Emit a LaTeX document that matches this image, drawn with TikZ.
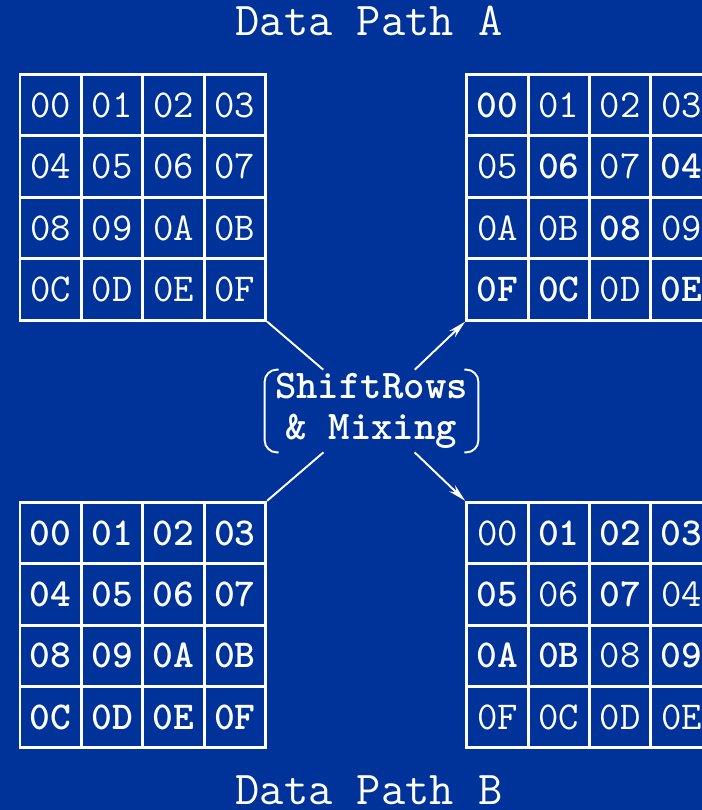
\documentclass[tikz,border=0pt]{standalone}
\usepackage{fontspec}
\usetikzlibrary{arrows.meta}
\definecolor{slideblue}{RGB}{0,51,153}

\begin{document}
\begin{tikzpicture}[
  cell/.style={draw=white,line width=1.7pt,minimum size=1.228cm,inner sep=0pt,text=white,font=\ttfamily\fontsize{22.5}{26}\selectfont},
  hot/.style={cell,font=\ttfamily\bfseries\fontsize{22.5}{26}\selectfont},
  pathname/.style={anchor=base,inner sep=0pt,text=white,font=\ttfamily\fontsize{26.8}{30}\selectfont},
  mixbox/.style={minimum width=4.260cm,minimum height=1.640cm,inner sep=0pt,align=center,text=white,font=\ttfamily\bfseries\fontsize{23.2}{23.2}\selectfont},
  link/.style={white,line width=1.1pt},
  arrowed/.style={link,-{Stealth[length=0.36cm,width=0.17cm]}}]
\useasboundingbox (0.000,0.000) rectangle (14.040,-16.200);
\clip (0.000,0.000) rectangle (14.040,-16.200);
\fill[slideblue] (0.000,0.000) rectangle (14.040,-16.200);
\node[pathname] (titlea) at (7.380,-0.720) {Data Path A};
\node[pathname] (titleb) at (7.380,-16.080) {Data Path B};
% path A, before
\node[cell] (ina00) at (1.014,-2.104) {00}; \node[cell] (ina01) at (2.242,-2.104) {01}; \node[cell] (ina02) at (3.470,-2.104) {02}; \node[cell] (ina03) at (4.698,-2.104) {03};
\node[cell] (ina10) at (1.014,-3.332) {04}; \node[cell] (ina11) at (2.242,-3.332) {05}; \node[cell] (ina12) at (3.470,-3.332) {06}; \node[cell] (ina13) at (4.698,-3.332) {07};
\node[cell] (ina20) at (1.014,-4.560) {08}; \node[cell] (ina21) at (2.242,-4.560) {09}; \node[cell] (ina22) at (3.470,-4.560) {0A}; \node[cell] (ina23) at (4.698,-4.560) {0B};
\node[cell] (ina30) at (1.014,-5.788) {0C}; \node[cell] (ina31) at (2.242,-5.788) {0D}; \node[cell] (ina32) at (3.470,-5.788) {0E}; \node[cell] (ina33) at (4.698,-5.788) {0F};
% path B, before
\node[hot] (inb00) at (1.014,-10.660) {00}; \node[hot] (inb01) at (2.242,-10.660) {01}; \node[hot] (inb02) at (3.470,-10.660) {02}; \node[hot] (inb03) at (4.698,-10.660) {03};
\node[hot] (inb10) at (1.014,-11.888) {04}; \node[hot] (inb11) at (2.242,-11.888) {05}; \node[hot] (inb12) at (3.470,-11.888) {06}; \node[hot] (inb13) at (4.698,-11.888) {07};
\node[hot] (inb20) at (1.014,-13.116) {08}; \node[hot] (inb21) at (2.242,-13.116) {09}; \node[hot] (inb22) at (3.470,-13.116) {0A}; \node[hot] (inb23) at (4.698,-13.116) {0B};
\node[hot] (inb30) at (1.014,-14.344) {0C}; \node[hot] (inb31) at (2.242,-14.344) {0D}; \node[hot] (inb32) at (3.470,-14.344) {0E}; \node[hot] (inb33) at (4.698,-14.344) {0F};
% path A, after
\node[hot] (outa00) at (9.948,-2.104) {00}; \node[cell] (outa01) at (11.176,-2.104) {01}; \node[cell] (outa02) at (12.404,-2.104) {02}; \node[cell] (outa03) at (13.632,-2.104) {03};
\node[cell] (outa10) at (9.948,-3.332) {05}; \node[hot] (outa11) at (11.176,-3.332) {06}; \node[cell] (outa12) at (12.404,-3.332) {07}; \node[hot] (outa13) at (13.632,-3.332) {04};
\node[cell] (outa20) at (9.948,-4.560) {0A}; \node[cell] (outa21) at (11.176,-4.560) {0B}; \node[hot] (outa22) at (12.404,-4.560) {08}; \node[cell] (outa23) at (13.632,-4.560) {09};
\node[hot] (outa30) at (9.948,-5.788) {0F}; \node[hot] (outa31) at (11.176,-5.788) {0C}; \node[cell] (outa32) at (12.404,-5.788) {0D}; \node[hot] (outa33) at (13.632,-5.788) {0E};
% path B, after
\node[cell] (outb00) at (9.948,-10.660) {00}; \node[hot] (outb01) at (11.176,-10.660) {01}; \node[hot] (outb02) at (12.404,-10.660) {02}; \node[hot] (outb03) at (13.632,-10.660) {03};
\node[hot] (outb10) at (9.948,-11.888) {05}; \node[cell] (outb11) at (11.176,-11.888) {06}; \node[hot] (outb12) at (12.404,-11.888) {07}; \node[cell] (outb13) at (13.632,-11.888) {04};
\node[hot] (outb20) at (9.948,-13.116) {0A}; \node[hot] (outb21) at (11.176,-13.116) {0B}; \node[cell] (outb22) at (12.404,-13.116) {08}; \node[hot] (outb23) at (13.632,-13.116) {09};
\node[cell] (outb30) at (9.948,-14.344) {0F}; \node[cell] (outb31) at (11.176,-14.344) {0C}; \node[cell] (outb32) at (12.404,-14.344) {0D}; \node[cell] (outb33) at (13.632,-14.344) {0E};
% the mixing step
\node[mixbox] (mix) at (7.430,-8.220) {ShiftRows\\\& Mixing};
\draw[link,rounded corners=0.24cm] ([xshift=0.28cm]mix.north west) -- (mix.north west) -- (mix.south west) -- ([xshift=0.28cm]mix.south west);
\draw[link,rounded corners=0.24cm] ([xshift=-0.28cm]mix.north east) -- (mix.north east) -- (mix.south east) -- ([xshift=-0.28cm]mix.south east);
\draw[link] (ina33.south east) -- (mix);
\draw[link] (inb03.north east) -- (mix);
\draw[arrowed] (mix) -- (outa30.south west);
\draw[arrowed] (mix) -- (outb00.north west);
\end{tikzpicture}
\end{document}
